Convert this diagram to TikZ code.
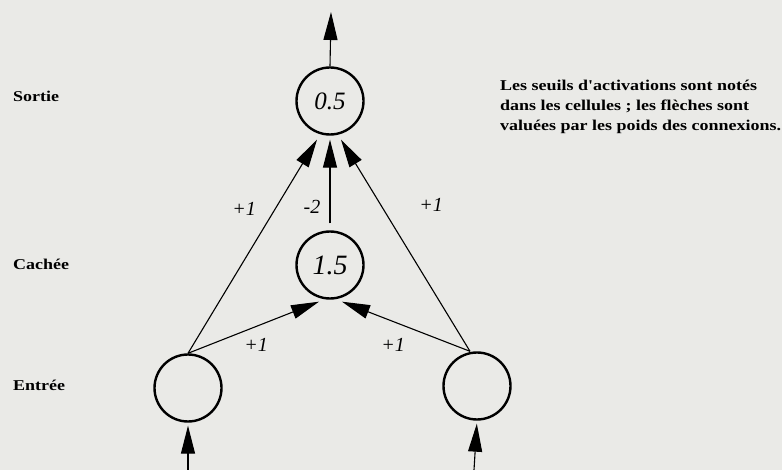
\documentclass[tikz,border=0pt]{standalone}
\usepackage{fontspec}
\setmainfont{Liberation Serif}
\newfontfamily\lblfont[FakeStretch=1.2]{Liberation Serif Bold}
\usetikzlibrary{arrows.meta}
\definecolor{paper}{RGB}{234,234,231}
\begin{document}
\begin{tikzpicture}[x=1pt,y=-1pt,
  neuron/.style={circle,draw,line width=2.4pt,minimum size=67pt,inner sep=0pt},
  conn/.style={line width=1.1pt,-{Triangle[length=28pt,width=14pt]}},
  wlabel/.style={font=\fontsize{20}{20}\selectfont\itshape,inner sep=0pt},
  layerlbl/.style={font=\lblfont\fontsize{15}{15}\selectfont,anchor=west,inner sep=0pt},
  note/.style={font=\lblfont\fontsize{15}{20}\selectfont,anchor=north west,align=left,inner sep=0pt}]
\fill[paper] (0,0) rectangle (782,470);
\useasboundingbox (0,0) rectangle (782,470);

\node[neuron,font=\fontsize{25}{25}\selectfont\itshape] (out) at (330,101) {0.5};
\node[neuron,font=\fontsize{28}{28}\selectfont\itshape] (hid) at (330,265) {1.5};
\node[neuron] (inL) at (188,388) {};
\node[neuron] (inR) at (477,386) {};

\coordinate (top) at (331,12);
\coordinate (botL) at (188,470);
\coordinate (botR) at (474,470);

\draw[conn] (out.north) -- (top);
\draw[conn,shorten <=7pt] (hid.north) -- ([yshift=-4pt]out.south);
\draw[conn] (inL.north) -- ([xshift=-13pt,yshift=-4pt]out.south);
\draw[conn] ([xshift=-7pt]inR.north) -- ([xshift=11pt,yshift=-4pt]out.south);
\draw[conn] (inL.north) -- ([xshift=-11pt,yshift=-2pt]hid.south);
\draw[conn] ([xshift=-7pt]inR.north) -- ([xshift=12pt,yshift=-2pt]hid.south);
\draw[conn,shorten >=3pt] (botL) -- (inL.south);
\draw[conn,shorten >=3pt] (botR) -- (inR.south);

\node[wlabel] (w1) at (244,209) {+1};
\node[wlabel] (w2) at (312,207) {-2};
\node[wlabel] (w3) at (431,205) {+1};
\node[wlabel] (w4) at (256,345) {+1};
\node[wlabel] (w5) at (393,345) {+1};

\node[layerlbl] (sortie) at (13,96) {Sortie};
\node[layerlbl] (cachee) at (13,264) {Cachée};
\node[layerlbl] (entree) at (13,385) {Entrée};

\node[note] (txt) at (500,80) {Les seuils d'activations sont notés\\dans les cellules ; les flèches sont\\valuées par les poids des connexions.};
\end{tikzpicture}
\end{document}
